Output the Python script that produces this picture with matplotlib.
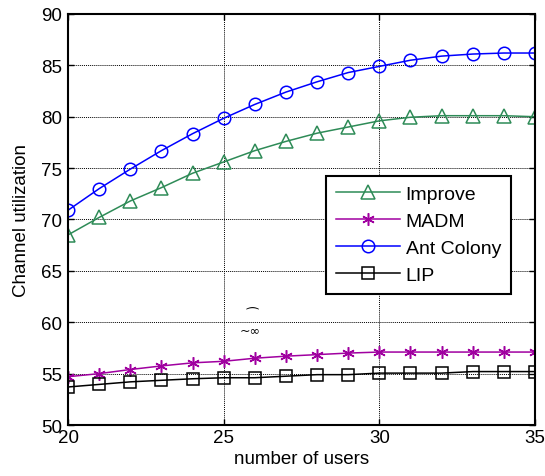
import matplotlib
matplotlib.use("Agg")
import matplotlib.pyplot as plt

plt.rcParams['font.family'] = ['Liberation Sans', 'DejaVu Sans']

users = list(range(20, 36))
improve = [68.5, 70.2, 71.8, 73.1, 74.5, 75.6, 76.7, 77.6, 78.4, 79.0, 79.6, 79.95, 80.1, 80.1, 80.1, 80.0]
madm = [54.7, 55.0, 55.4, 55.75, 56.05, 56.2, 56.5, 56.7, 56.85, 57.0, 57.1, 57.1, 57.1, 57.1, 57.1, 57.1]
ant_colony = [70.9, 73.0, 74.9, 76.7, 78.35, 79.85, 81.2, 82.4, 83.4, 84.3, 84.9, 85.5, 85.9, 86.1, 86.2, 86.2]
lip = [53.7, 53.95, 54.2, 54.35, 54.5, 54.6, 54.6, 54.75, 54.9, 54.9, 55.05, 55.05, 55.05, 55.2, 55.2, 55.2]

xticks = [20, 25, 30, 35]
yticks = [50, 55, 60, 65, 70, 75, 80, 85, 90]

fig = plt.figure(figsize=(5.45, 4.77), dpi=100)
ax = fig.add_axes([0.1248, 0.1069, 0.8569, 0.8617])

ms = 9
ax.plot(users, improve, color='#2e8b57', marker='^', ms=ms + 0.5, mfc='none', mew=1.1, lw=1.1, label='Improve')
ax.plot(users, madm, color='#a000a0', marker=(6, 2, 0), ms=ms, mfc='none', mew=1.1, lw=1.1, label='MADM')
ax.plot(users, ant_colony, color='#0000ff', marker='o', ms=ms, mfc='none', mew=1.1, lw=1.1, label='Ant Colony')
ax.plot(users, lip, color='black', marker='s', ms=ms - 0.5, mfc='none', mew=1.1, lw=1.1, label='LIP')

ax.set_xlim(20, 35)
ax.set_ylim(50, 90)
ax.set_xticks(xticks)
ax.set_yticks(yticks)
ax.grid(True, color='black', linestyle=(0, (1, 1)), linewidth=0.7)
ax.tick_params(direction='in', labelsize=13.5, length=4, width=1, top=True, right=True)
ax.tick_params(axis='x', pad=3)
ax.tick_params(axis='y', pad=4)
for s in ax.spines.values():
    s.set_linewidth(1.5)

ax.set_xlabel('number of users', fontsize=13.5, labelpad=3)
ax.set_ylabel('Channel utilization', fontsize=13.5, labelpad=8)

ax.text(25.9, 59.95, '\u2040', fontsize=10, ha='center', va='bottom', family=['DejaVu Sans'])
ax.text(25.85, 59.9, '~\u221e', fontsize=9, ha='center', va='top', family=['DejaVu Sans'])

leg = ax.legend(loc='upper left', bbox_to_anchor=(0.552, 0.606), fontsize=14, frameon=True,
                fancybox=False, edgecolor='black', framealpha=1, handlelength=3.3,
                borderpad=0.5, labelspacing=0.48, handletextpad=0.3, borderaxespad=0)
leg.get_frame().set_linewidth(1.5)

fig.savefig('out.png', dpi=100)
